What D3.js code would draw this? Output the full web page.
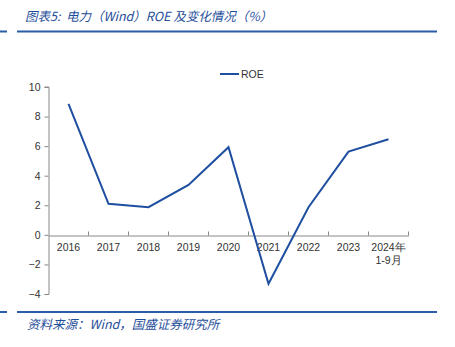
<!DOCTYPE html>
<html><head><meta charset="utf-8">
<script src="https://cdn.jsdelivr.net/npm/d3@7"></script>
<style>body{margin:0;background:#fff;}svg{display:block;}</style>
</head><body>
<script>
const categories = ["2016","2017","2018","2019","2020","2021","2022","2023","2024年\n1-9月"];
const roeValues = [8.86, 2.1, 1.87, 3.38, 5.93, -3.31, 1.87, 5.63, 6.47];
const yTicks = [-4,-2,0,2,4,6,8,10];
const seriesName = "ROE";
const titleText = "图表5:\u00a0\u00a0电力（Wind）ROE 及变化情况（%）";
const sourceText = "资料来源：Wind，国盛证券研究所";

const W = 455, H = 347;
const svg = d3.select("body").append("svg").attr("width", W).attr("height", H);
const blue = "#1f4e9a";
const lineBlue = "#1f4fa0";

// header
svg.append("text").attr("x", 25).attr("y", 21).attr("font-family", "Noto Sans CJK SC").attr("font-style", "italic")
  .attr("font-size", 12.5).attr("fill", blue).text(titleText);
[[0,7],[17,437]].forEach(([a,b]) => {
  svg.append("line").attr("x1", a).attr("x2", b).attr("y1", 31.5).attr("y2", 31.5).attr("stroke", "#2a5caa").attr("stroke-width", 2);
  svg.append("line").attr("x1", a).attr("x2", b).attr("y1", 312).attr("y2", 312).attr("stroke", "#2a5caa").attr("stroke-width", 2);
});
svg.append("text").attr("x", 27).attr("y", 329).attr("font-family", "Noto Sans CJK SC").attr("font-style", "italic")
  .attr("font-size", 12.5).attr("fill", blue).text(sourceText);

const x = d3.scaleBand().domain(categories).range([48.5, 408.5]);
const y = d3.scaleLinear().domain([-4, 10]).range([294, 87]);

const g = svg.append("g");
// y axis
const yAxis = g.append("g").attr("transform", "translate(48.5,0)")
  .call(d3.axisLeft(y).tickValues(yTicks).tickSize(4).tickFormat(d3.format("d")));
yAxis.select(".domain").attr("stroke", "#888").attr("d", `M-4,${y(-4)+0.5}H0.5V${y(10)}H-4`);
yAxis.selectAll(".tick line").attr("stroke", "#888");
yAxis.selectAll(".tick text").attr("x", -8).attr("font-family", "Liberation Sans, Arial").attr("font-size", 10.5).attr("fill", "#333");

// x axis at zero
const xAxis = g.append("g").attr("transform", `translate(0,${Math.round(y(0))+0.5})`)
  .call(d3.axisBottom(x).tickSize(0).tickFormat(""));
xAxis.select(".domain").attr("stroke", "#888");
const bounds = categories.map(c => x(c)).concat([x.range()[1]]);
xAxis.selectAll(".bnd").data(bounds.slice(1)).enter().append("line")
  .attr("x1", d => d).attr("x2", d => d).attr("y1", 0).attr("y2", -4).attr("stroke", "#888");

categories.forEach(c => {
  const parts = c.split("\n");
  const t = g.append("text").attr("x", x(c) + x.bandwidth()/2).attr("y", 251)
    .attr("text-anchor", "middle").attr("font-family", "Liberation Sans, Arial").attr("font-size", 10.5).attr("fill", "#333");
  parts.forEach((p, i) => t.append("tspan").attr("x", x(c) + x.bandwidth()/2).attr("dy", i === 0 ? 0 : 13).text(p));
});

// line
const line = d3.line().x((d, i) => x(categories[i]) + x.bandwidth()/2).y(d => y(d));
g.append("path").datum(roeValues).attr("d", line).attr("fill", "none").attr("stroke", lineBlue).attr("stroke-width", 2);

// legend
svg.append("line").attr("x1", 220).attr("x2", 239).attr("y1", 74).attr("y2", 74).attr("stroke", lineBlue).attr("stroke-width", 2);
svg.append("text").attr("x", 241).attr("y", 78).attr("font-family", "Liberation Sans, Arial").attr("font-size", 10.5).attr("fill", "#333").text(seriesName);
</script>
</body></html>
